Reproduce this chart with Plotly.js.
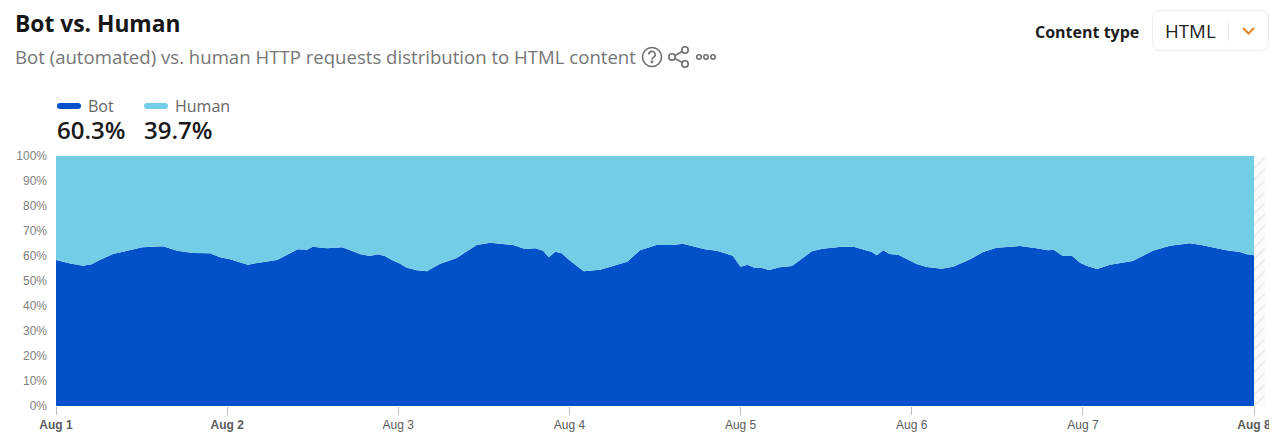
<!DOCTYPE html>
<html>
<head>
<meta charset="utf-8">
<script src="https://cdn.plot.ly/plotly-3.0.1.min.js"></script>
<style>
  html, body { margin: 0; padding: 0; background: #fff; width: 1280px; height: 448px; overflow: hidden; }
  body { font-family: "Open Sans", "Noto Sans", sans-serif; position: relative; }
  #chart { position: absolute; left: 0; top: 0; width: 1269px; height: 448px; overflow: hidden; }
  .abs { position: absolute; white-space: nowrap; }
  .subtitle { left: 15px; top: 44px; font-size: 18.6px; line-height: 26px; color: #767676; }
  .key { top: 98px; font-size: 16px; line-height: 16px; color: #666; }
  .swatch { position: absolute; top: 103px; width: 24px; height: 6px; border-radius: 3px; }
  .share { top: 117px; font-size: 24px; line-height: 26px; font-weight: 600; color: #1a1a1a; }
  .label { left: 1035px; top: 21px; font-size: 16px; line-height: 22px; font-weight: 700; color: #1d1d1d; }
  .select { left: 1152px; top: 10px; width: 117px; height: 41px; border: 1px solid #eeeeee; border-radius: 8px; box-sizing: border-box; }
  .select span { position: absolute; left: 12px; top: 8px; font-size: 18.7px; line-height: 24px; color: #222; }
  .select i { position: absolute; left: 75px; top: 10px; width: 1px; height: 20px; background: #eee; }
</style>
</head>
<body>
<div id="chart"></div>

<div class="abs subtitle">Bot (automated) vs. human HTTP requests distribution to HTML content</div>
<svg class="abs" style="left:640px;top:44px" width="80" height="26" fill="none" stroke="#6f6f6f" stroke-width="1.6">
  <circle cx="12" cy="13" r="9.5"/>
  <path d="M8.8 10.5a3.2 3.2 0 1 1 4.6 2.9c-1 .6-1.4 1.1-1.4 2.2"/>
  <circle cx="12" cy="18" r="0.6"/>
  <circle cx="32" cy="13" r="3.2"/><circle cx="45" cy="6" r="3.2"/><circle cx="45" cy="20" r="3.2"/>
  <path d="M35 11.5l7-4M35 14.5l7 4"/>
  <circle cx="59" cy="13" r="2.2"/><circle cx="66" cy="13" r="2.2"/><circle cx="73" cy="13" r="2.2"/>
</svg>

<div class="swatch" style="left:57px;background:#0251c8"></div>
<div class="abs key" style="left:88px">Bot</div>
<div class="swatch" style="left:144px;background:#74cde6"></div>
<div class="abs key" style="left:175px">Human</div>
<div class="abs share" style="left:57px">60.3%</div>
<div class="abs share" style="left:144px">39.7%</div>

<div class="abs label">Content type</div>
<div class="abs select">
  <span>HTML</span><i></i>
  <svg style="position:absolute;left:88px;top:15px" width="15" height="10" fill="none" stroke="#e08a2e" stroke-width="2.2"><path d="M2 2l5.5 5.5L13 2"/></svg>
</div>

<script>
// hours since Aug 1 00:00
const hours = [
  0, 2, 3.8, 5, 5.9, 8, 10, 12.1, 15, 17, 19.2, 21.6, 23, 24.4, 26.9, 28.2, 31, 33.9, 35.2, 36, 38, 40.1, 40.9,
  41.2, 42.6, 44, 45.1, 46.1, 47.1, 48.2, 49.2, 50.6, 52, 53.8, 56.2, 57.3, 59, 60.9, 64.1, 65.8, 67.2, 68.3, 69.1, 70, 70.9, 72.1, 73, 74, 76.3, 80.1, 81.9, 83.3, 84.3,
  84.7, 86.5, 87.9, 88.9, 91, 92.7, 94.9, 96, 97, 98, 99, 100, 101.5, 103.2, 106, 107.5, 110.2, 112, 114.4, 115.1, 116, 116.9, 118.1, 120.7, 122.1, 124.2, 125.8, 128.2,
  130, 131.9, 135.2, 137.5, 139.1, 139.9, 141.2, 142.5, 143.6, 144.6, 146, 147.8, 151, 153.8, 156.2, 159, 160.8, 163.9, 166, 167, 168,
];
const bot = [
  58.4, 57, 56.1, 56.7, 58.1, 60.8, 62.1, 63.5, 63.9, 62.1, 61.2, 61.1, 59.5, 58.7, 56.5, 57.2, 58.4, 62.7, 62.5, 63.7, 63.1, 63.5, 62.7,
  62.4, 60.8, 60, 60.7, 60, 58.4, 57, 55.3, 54.3, 53.9, 56.8, 59.2, 61.3, 64.4, 65.3, 64.4, 62.8, 63.1, 62.1, 59.5, 61.7, 61.1, 58.1, 56.1, 53.9, 54.5, 57.7, 62.3, 63.7, 64.5,
  64.4, 64.4, 64.9, 64.1, 62.7, 62.1, 60.1, 55.7, 56.5, 55.2, 55.2, 54.4, 55.5, 56, 61.9, 62.9, 63.7, 63.6, 61.6, 60.3, 62.3, 60.8, 60.5, 56.8, 55.6, 54.9, 55.7, 58.7,
  61.6, 63.3, 64, 63.1, 62.3, 62.5, 60, 60, 57.3, 56, 54.8, 56.5, 58, 62.1, 64.1, 65.1, 64.3, 62.4, 61.6, 60.7, 60.3,
];
const human = [
  41.6, 43, 43.9, 43.3, 41.9, 39.2, 37.9, 36.5, 36.1, 37.9, 38.8, 38.9, 40.5, 41.3, 43.5, 42.8, 41.6, 37.3, 37.5, 36.3, 36.9, 36.5, 37.3,
  37.6, 39.2, 40, 39.3, 40, 41.6, 43, 44.7, 45.7, 46.1, 43.2, 40.8, 38.7, 35.6, 34.7, 35.6, 37.2, 36.9, 37.9, 40.5, 38.3, 38.9, 41.9, 43.9, 46.1, 45.5, 42.3, 37.7, 36.3, 35.5,
  35.6, 35.6, 35.1, 35.9, 37.3, 37.9, 39.9, 44.3, 43.5, 44.8, 44.8, 45.6, 44.5, 44, 38.1, 37.1, 36.3, 36.4, 38.4, 39.7, 37.7, 39.2, 39.5, 43.2, 44.4, 45.1, 44.3, 41.3,
  38.4, 36.7, 36, 36.9, 37.7, 37.5, 40, 40, 42.7, 44, 45.2, 43.5, 42, 37.9, 35.9, 34.9, 35.7, 37.6, 38.4, 39.3, 39.7,
];
const dayTicks = [0, 24, 48, 72, 96, 120, 144, 168];
const dayLabels = ["<b>Aug 1</b>", "<b>Aug 2</b>", "Aug 3", "Aug 4", "Aug 5", "Aug 6", "Aug 7", "<b>Aug 8</b>"];
const pctTicks = [0, 10, 20, 30, 40, 50, 60, 70, 80, 90, 100];
const pctLabels = ["0%", "10%", "20%", "30%", "40%", "50%", "60%", "70%", "80%", "90%", "100%"];

const BOT_COLOR = "#0251c8";
const HUMAN_COLOR = "#74cde6";

function areaTrace(name, values, color) {
  return {
    type: "scatter",
    mode: "lines",
    name,
    x: hours,
    y: values,
    stackgroup: "share",
    line: { width: 0, color },
    fillcolor: color,
    hovertemplate: name + " %{y:.1f}%<extra></extra>",
  };
}

// the part of the axis after the last complete hour is hatched
const pending = {
  type: "bar",
  x: [168.77],
  y: [100],
  width: [1.54],
  marker: {
    color: "#fafafa",
    line: { width: 0 },
    pattern: { shape: "/", fgcolor: "#ececec", bgcolor: "#fbfbfb", size: 8, solidity: 0.2 },
  },
  hoverinfo: "skip",
};

Plotly.newPlot(
  "chart",
  [areaTrace("Bot", bot, BOT_COLOR), areaTrace("Human", human, HUMAN_COLOR), pending],
  {
    width: 1269,
    height: 448,
    margin: { l: 56, r: 4, t: 156, b: 42 },
    paper_bgcolor: "rgba(0,0,0,0)",
    plot_bgcolor: "rgba(0,0,0,0)",
    font: { family: "Liberation Sans, Arial, sans-serif", color: "#777" },
    showlegend: false,
    title: {
      text: "<b>Bot vs. Human</b>",
      x: 0.0118,
      xref: "container",
      xanchor: "left",
      y: 0.947,
      yanchor: "middle",
      font: { family: "Open Sans, Noto Sans, sans-serif", size: 22.8, color: "#161616" },
    },
    xaxis: {
      type: "linear",
      range: [0, 169.54],
      tickmode: "array",
      tickvals: dayTicks,
      ticktext: dayLabels,
      ticks: "outside",
      ticklen: 8,
      tickwidth: 1,
      tickcolor: "#bbb",
      tickfont: { size: 12, color: "#5c5c5c" },
      ticklabeloverflow: "allow",
      showgrid: false,
      zeroline: false,
      showline: false,
      fixedrange: true,
    },
    yaxis: {
      range: [0, 100],
      tickmode: "array",
      tickvals: pctTicks,
      ticktext: pctLabels,
      ticks: "",
      ticklabelstandoff: 8,
      tickfont: { size: 12, color: "#808080" },
      showgrid: false,
      zeroline: false,
      showline: false,
      fixedrange: true,
    },
  },
  { displayModeBar: false, responsive: false }
);
</script>
</body>
</html>
